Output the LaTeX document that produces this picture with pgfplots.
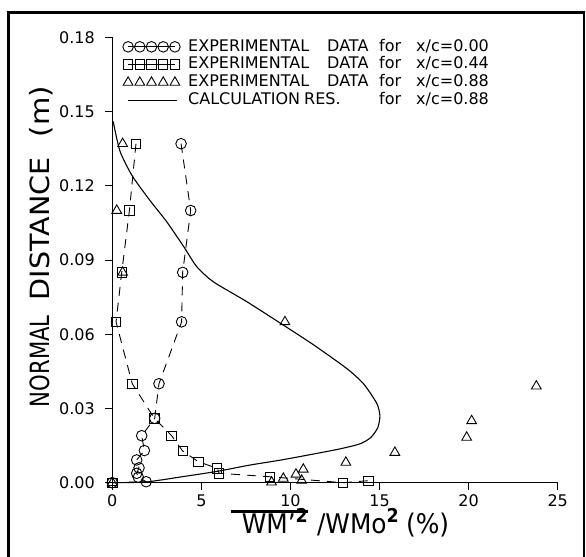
\documentclass[border=0pt]{standalone}
\usepackage{fontspec}
\setmainfont{DejaVu Sans}
\usepackage{graphicx}
\usepackage{pgfplots}
\pgfplotsset{compat=1.18}
\pgfplotsset{
  fivemarks/.style={legend image code/.code={\draw[##1, solid] plot coordinates {(0bp,0bp) (11.7bp,0bp) (23.4bp,0bp) (35.1bp,0bp) (46.8bp,0bp)};}},
  fivemarksonly/.style={legend image code/.code={\draw[##1] plot coordinates {(0bp,0bp) (11.7bp,0bp) (23.4bp,0bp) (35.1bp,0bp) (46.8bp,0bp)};}},
  calcline/.style={legend image code/.code={\draw[##1] (0bp,0bp) -- (49bp,0bp);}},
}
\newcommand{\supb}{\raisebox{11bp}{\fontsize{19bp}{19bp}\selectfont\bfseries 2}}
\begin{document}
\begin{tikzpicture}
\useasboundingbox (-112.3bp,-74.3bp) rectangle (473.7bp,482.7bp);
\begin{axis}[
  scale only axis, width=445.4bp, height=445.4bp,
  xmin=0, xmax=25, ymin=0, ymax=0.18,
  axis x line=bottom, axis y line=left,
  axis line style={-, line width=0.9bp},
  clip=false,
  tick align=outside, major tick length=7bp,
  tick style={line width=0.9bp, black},
  xtick={0,5,10,15,20,25},
  ytick={0,0.03,0.06,0.09,0.12,0.15,0.18},
  scaled y ticks=false,
  /pgf/number format/assume math mode=true,
  yticklabel style={xshift=-7bp, /pgf/number format/fixed, /pgf/number format/fixed zerofill, /pgf/number format/precision=2},
  xticklabel style={yshift=-1.5bp},
  tick label style={font=\fontsize{16bp}{18bp}\selectfont},
  xlabel={\scalebox{0.92}[1]{\setbox0\hbox{WM'\supb}\rlap{\hspace{-12bp}\raisebox{20bp}{\rule{\dimexpr\wd0+12bp\relax}{2.6bp}}}\box0\hspace{10bp}/WMo\supb\hspace{8bp}(\%)}},
  xlabel style={font=\fontsize{27bp}{29bp}\selectfont, at={(axis description cs:0.5236,-0.113)}, anchor=base},
  ylabel={\makebox[107bp][l]{\scalebox{0.8}[1]{NORMAL}}\makebox[163bp][l]{\scalebox{1.08}[1]{DISTANCE}}\scalebox{1.1}[1]{(m)}},
  ylabel style={font=\fontsize{26.5bp}{28bp}\selectfont, at={(axis description cs:-0.160,0.53)}, anchor=center, rotate=0},
  legend style={at={(axis description cs:0.0236,0.996)}, anchor=north west, draw=none, fill=none,
    inner sep=0pt, outer sep=0pt, font=\fontsize{16bp}{18bp}\selectfont, row sep=2.3bp,
    nodes={inner sep=0pt, text height=12bp, text depth=3.5bp},
    /tikz/every odd column/.style={column sep=8bp}},
  legend cell align=left,
]
% x/c = 0.00 circles
\addplot[black, line width=0.9bp, dash pattern=on 9bp off 7bp, mark=o, mark size=5.3bp, mark options={solid}, fivemarks]
coordinates {
(3.86,0.137) (4.40,0.110) (3.95,0.085) (3.89,0.065) (2.62,0.040) (2.38,0.026)
(1.65,0.019) (1.80,0.013) (1.37,0.0092) (1.50,0.0060) (1.37,0.0038) (1.46,0.0022) (1.90,0.0004) (0,0)
};
\addlegendentry{\makebox[139bp][l]{EXPERIMENTAL}\makebox[52bp][l]{DATA}\makebox[37bp][l]{for}x/c=0.00}
% x/c = 0.44 squares
\addplot[black, line width=0.9bp, dash pattern=on 9bp off 7bp, mark=square, mark size=4.7bp, mark options={solid}, fivemarks]
coordinates {
(1.33,0.137) (0.96,0.110) (0.53,0.085) (0.21,0.065) (1.12,0.040) (2.36,0.026)
(3.33,0.019) (3.95,0.0128) (4.83,0.0085) (5.89,0.0058) (6.00,0.0038) (8.85,0.0024) (12.96,0.0) (14.37,0.0008)
};
\addlegendentry{\makebox[139bp][l]{EXPERIMENTAL}\makebox[52bp][l]{DATA}\makebox[37bp][l]{for}x/c=0.44}
% x/c = 0.88 triangles
\addplot[black, only marks, mark=triangle, mark size=5.6bp, mark options={solid, line width=0.9bp}, fivemarksonly]
coordinates {
(0.58,0.137) (0.25,0.110) (0.58,0.085) (9.69,0.065) (23.8,0.039) (20.17,0.025) (19.89,0.0183)
(15.86,0.0122) (13.11,0.0082) (10.72,0.0054) (10.31,0.0034) (9.60,0.0017) (10.63,0.0009) (8.94,0.0002) (0,0)
};
\addlegendentry{\makebox[139bp][l]{EXPERIMENTAL}\makebox[52bp][l]{DATA}\makebox[37bp][l]{for}x/c=0.88}
% calculation
\addplot[black, line width=1.1bp, smooth, tension=0.4, no marks, calcline]
coordinates {
(0,0) (1.9,0.0003) (4.0,0.0025) (5.9,0.0046) (7.7,0.0071) (9.5,0.0092) (11.3,0.0116)
(12.8,0.0137) (13.9,0.0157) (14.5,0.0182) (14.9,0.0222) (15.02,0.027) (14.85,0.032)
(14.1,0.040) (13.15,0.0462) (11.3,0.0557) (9.6,0.0637) (7.54,0.0732) (5.67,0.0812)
(4.74,0.0873) (4.0,0.0955) (3.05,0.1055) (2.12,0.114) (1.12,0.124) (0.43,0.134) (0.05,0.146)
};
\addlegendentry{\makebox[116bp][l]{CALCULATION}\makebox[75bp][l]{RES.}\makebox[37bp][l]{for}x/c=0.88}
% marker at the origin
\addplot[black, only marks, mark=square, mark size=4.7bp, forget plot] coordinates {(0,0)};
\end{axis}
\draw[line width=2.5bp] (-103.8bp,-74.3bp) -- (-103.8bp,470.2bp) -- (471.7bp,470.2bp) -- (471.7bp,-74.3bp);
\end{tikzpicture}
\end{document}
